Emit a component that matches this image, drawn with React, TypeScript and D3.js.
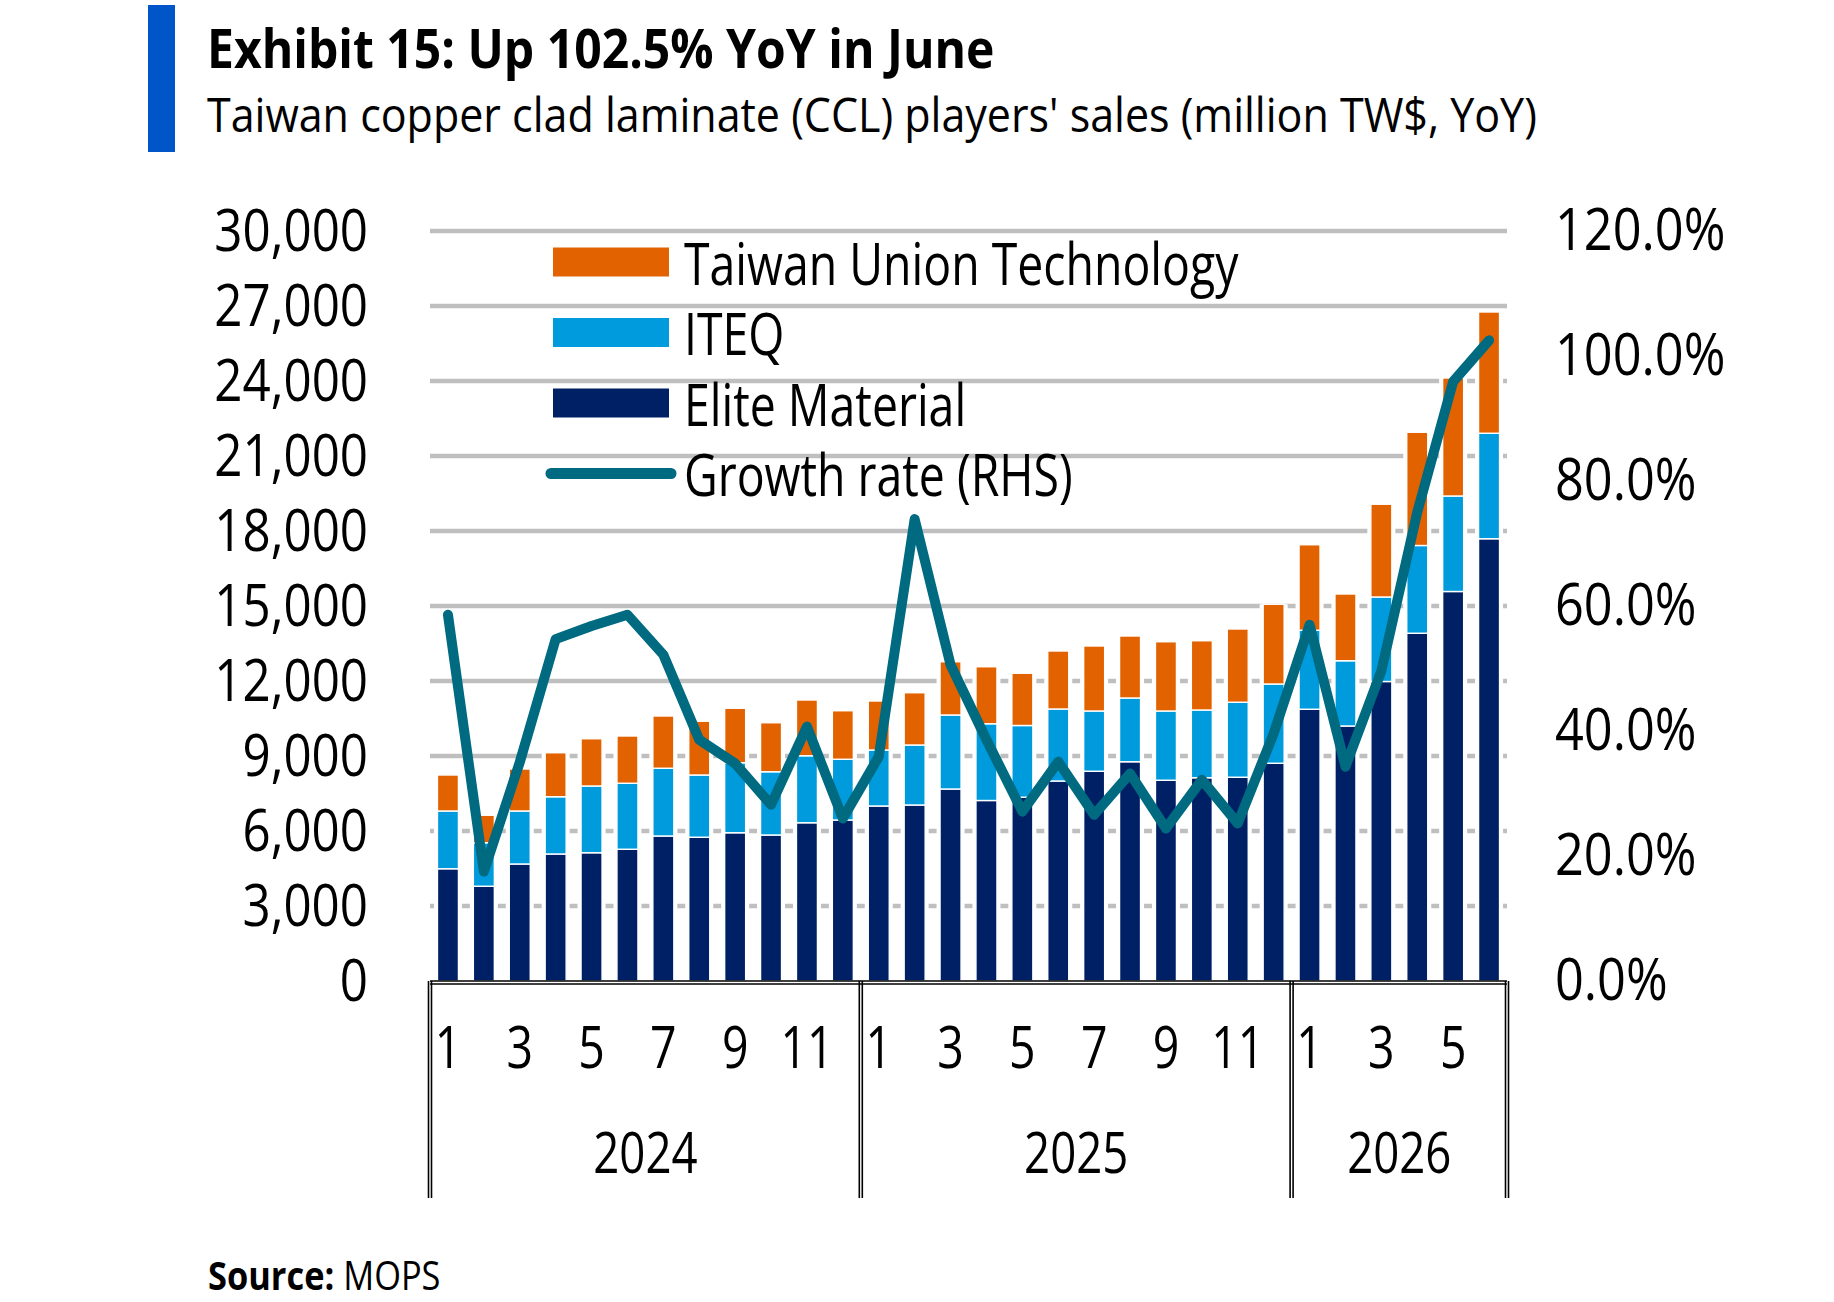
import * as d3 from "d3";

// months shown on the category axis, grouped by year
const years = ["2024", "2025", "2026"];
const monthsPerYear = [12, 12, 6];

// monthly sales, million TW$
const eliteMaterial = [
  4490, 3790, 4680, 5080, 5130, 5270, 5800, 5750, 5930, 5840, 6330, 6440,
  7000, 7040, 7680, 7220, 7350, 8000, 8390, 8770, 8030, 8130, 8150, 8710,
  10870, 10200, 11980, 13910, 15580, 17690,
];
const iteq = [
  2310, 1740, 2120, 2290, 2670, 2640, 2710, 2490, 2800, 2530, 2680, 2430,
  2240, 2400, 2960, 3070, 2870, 2880, 2410, 2550, 2770, 2710, 3000, 3170,
  3160, 2610, 3380, 3510, 3820, 4220,
];
const taiwanUnion = [
  1440, 1100, 1680, 1760, 1890, 1890, 2090, 2150, 2180, 1960, 2230, 1940,
  1960, 2090, 2130, 2280, 2090, 2320, 2600, 2480, 2770, 2770, 2930, 3190,
  3420, 2670, 3710, 4530, 4720, 4850,
];
// YoY growth, %
const growth = [
  58.6, 17.5, 35.0, 54.7, 56.8, 58.6, 52.2, 38.6, 34.8, 28.2, 40.7, 26.0,
  35.9, 73.9, 50.6, 38.6, 27.1, 35.1, 26.6, 33.2, 24.4, 32.2, 25.2, 39.6,
  57.0, 34.3, 49.6, 75.0, 95.9, 102.5,
];

const leftTicks = [0, 3000, 6000, 9000, 12000, 15000, 18000, 21000, 24000, 27000, 30000];
const rightTicks = [0, 20, 40, 60, 80, 100, 120];

const seriesNames = ["Elite Material", "ITEQ", "Taiwan Union Technology"];
const colors = ["#002066", "#009BDD", "#E36200"];
const lineColor = "#006A80";

const FONT = "'Open Sans', 'Noto Sans', sans-serif";
const SX = 0.8; // horizontal squeeze to mimic the condensed face

// text squeezed horizontally around its anchor point
function T({ x, y, sx = SX, children, ...rest }: any) {
  return (
    <text transform={`translate(${x},${y}) scale(${sx},1)`} fill="#000" {...rest}>
      {children}
    </text>
  );
}

export default function App() {
  const W = 1834;
  const H = 1302;
  const left = 430;
  const right = 1507;
  const top = 231;
  const bottom = 981;

  // build category keys
  const cats: { key: string; month: number; year: string }[] = [];
  years.forEach((y, yi) => {
    for (let m = 1; m <= monthsPerYear[yi]; m++) cats.push({ key: `${y}-${m}`, month: m, year: y });
  });

  const rows = cats.map((c, i) => ({
    key: c.key,
    "Elite Material": eliteMaterial[i],
    ITEQ: iteq[i],
    "Taiwan Union Technology": taiwanUnion[i],
  }));
  const stacked = d3.stack<any>().keys(seriesNames)(rows);
  const totals = rows.map((_, i) => stacked[stacked.length - 1][i][1]);

  const x = d3
    .scaleBand<string>()
    .domain(cats.map((c) => c.key))
    .range([left, right])
    .paddingInner(0.415)
    .paddingOuter(0.2075);
  const y = d3.scaleLinear().domain([0, 30000]).range([bottom, top]);
  const y2 = d3.scaleLinear().domain([0, 120]).range([bottom, top]);
  const bw = x.bandwidth();
  const cx = (k: string) => (x(k) as number) + bw / 2;

  const growthLine = d3
    .line<number>()
    .x((_, i) => cx(cats[i].key))
    .y((d) => y2(d));

  // year group boundaries
  const bounds: number[] = [left];
  let acc = 0;
  monthsPerYear.forEach((n) => {
    acc += n;
    bounds.push(acc === cats.length ? right : (x(cats[acc].key) as number) - (x.step() * x.paddingInner()) / 2);
  });

  const fmt = d3.format(",");

  return (
    <div style={{ position: "absolute", left: 0, top: 0, width: W, height: H, background: "#fff" }}>
      <svg width={W} height={H} style={{ display: "block", fontFamily: FONT }}>
        <rect x={0} y={0} width={W} height={H} fill="#fff" />

        {/* header */}
        <rect x={148} y={5} width={27} height={147} fill="#0055C8" />
        <T x={207} y={68} sx={0.89} fontSize={54} fontWeight="bold">
          Exhibit 15: Up 102.5% YoY in June
        </T>
        <T x={207} y={132} sx={0.915} fontSize={47}>
          Taiwan copper clad laminate (CCL) players' sales (million TW$, YoY)
        </T>

        {/* gridlines */}
        {leftTicks
          .filter((t) => t > 0)
          .map((t) => (
            <line key={t} x1={left} x2={right} y1={y(t)} y2={y(t)} stroke="#BFBFBF" strokeWidth={4.5} />
          ))}

        {/* white halo behind each bar */}
        {cats.map((c, i) => (
          <rect
            key={"h" + c.key}
            x={(x(c.key) as number) - 3.5}
            y={y(totals[i])}
            width={bw + 7}
            height={bottom - y(totals[i])}
            fill="#fff"
          />
        ))}

        {/* stacked bars */}
        {stacked.map((s, si) => (
          <g key={s.key} fill={colors[si]}>
            {s.map((d, i) => (
              <rect
                key={i}
                x={x(cats[i].key)}
                y={y(d[1])}
                width={bw}
                height={y(d[0]) - y(d[1])}
                stroke="#fff"
                strokeWidth={1.4}
              />
            ))}
          </g>
        ))}

        {/* growth line */}
        <path
          d={growthLine(growth) || ""}
          fill="none"
          stroke={lineColor}
          strokeWidth={10}
          strokeLinejoin="round"
          strokeLinecap="round"
        />

        {/* left axis labels */}
        {leftTicks.map((t) => (
          <T key={t} x={368} y={y(t) - 3} sx={0.85} fontSize={58} textAnchor="end" dominantBaseline="central">
            {fmt(t)}
          </T>
        ))}
        {/* right axis labels */}
        {rightTicks.map((t) => (
          <T key={t} x={1555} y={y2(t) - 3} sx={0.87} fontSize={58} dominantBaseline="central">
            {t.toFixed(1)}%
          </T>
        ))}

        {/* category axis */}
        <line x1={left} x2={right} y1={981} y2={981} stroke="#000" strokeWidth={1.6} />
        <line x1={left} x2={right} y1={984} y2={984} stroke="#000" strokeWidth={1.6} />
        {bounds.map((b, i) => (
          <g key={"b" + i} stroke="#000" strokeWidth={1.6}>
            <line x1={b - 1.5} x2={b - 1.5} y1={981} y2={1198} />
            <line x1={b + 1.5} x2={b + 1.5} y1={981} y2={1198} />
          </g>
        ))}
        {cats
          .filter((c) => c.month % 2 === 1)
          .map((c) => (
            <T key={"m" + c.key} x={cx(c.key)} y={1068} fontSize={58} textAnchor="middle">
              {c.month}
            </T>
          ))}
        {years.map((yr, i) => (
          <T key={yr} x={(bounds[i] + bounds[i + 1]) / 2} y={1173} fontSize={57} textAnchor="middle">
            {yr}
          </T>
        ))}

        {/* legend */}
        {[2, 1, 0].map((si, r) => (
          <g key={"l" + si}>
            <rect x={553} y={262 + r * 70.5 - 14.5} width={116} height={29} fill={colors[si]} />
            <T x={684} y={262 + r * 70.5} fontSize={58} dominantBaseline="central">
              {seriesNames[si]}
            </T>
          </g>
        ))}
        <line x1={551} x2={671} y1={473.5} y2={473.5} stroke={lineColor} strokeWidth={11} strokeLinecap="round" />
        <T x={684} y={473.5} fontSize={58} dominantBaseline="central">
          Growth rate (RHS)
        </T>

        {/* source */}
        <T x={208} y={1290} sx={0.86} fontSize={40}>
          <tspan fontWeight="bold">Source:</tspan> MOPS
        </T>
      </svg>
    </div>
  );
}
